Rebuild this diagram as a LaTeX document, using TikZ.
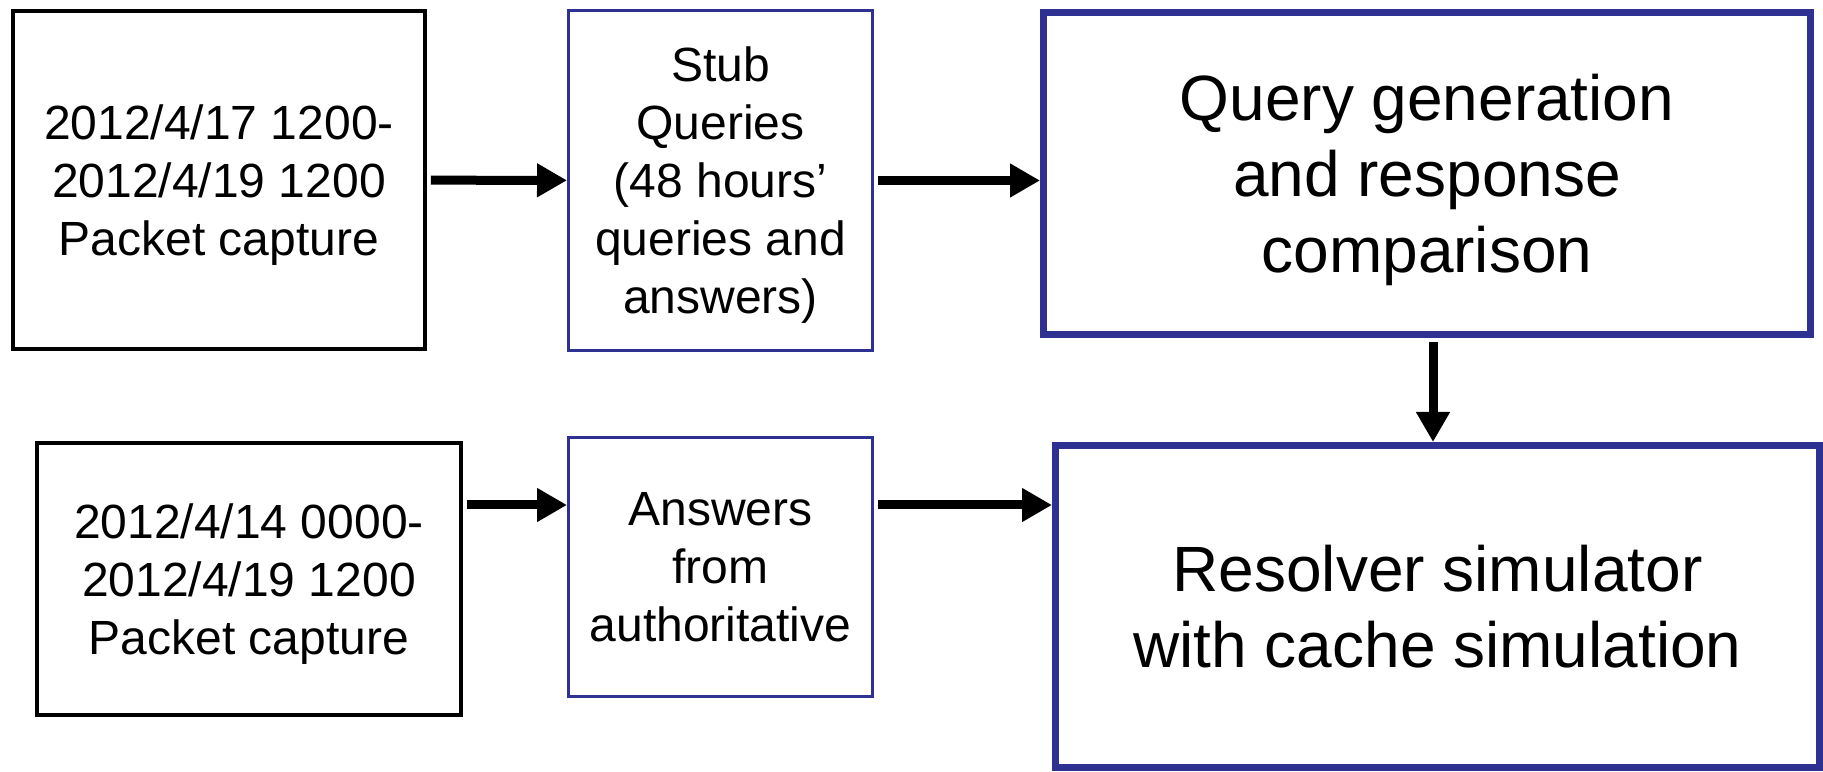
\documentclass[tikz,border=0pt]{standalone}
\usepackage{fontspec}
\setmainfont{Liberation Sans}
\usetikzlibrary{arrows.meta}
\definecolor{boxblue}{RGB}{46,49,146}

\begin{document}
\begin{tikzpicture}[x=5pt,y=5pt,
  capbox/.style={draw=black, line width=1.75pt, align=center, inner sep=0pt,
    text depth=0pt, font=\fontsize{24}{29}\selectfont},
  databox/.style={draw=boxblue, line width=1.5pt, align=center, inner sep=0pt,
    text depth=0pt, minimum width=152pt, font=\fontsize{24}{29}\selectfont},
  procbox/.style={draw=boxblue, line width=3.5pt, align=center, inner sep=0pt,
    text depth=0pt, font=\fontsize{32}{38}\selectfont},
  arr/.style={-{Triangle[length=15pt,width=16pt]}, line width=4.5pt, shorten <=2pt}]

\useasboundingbox (0,0) rectangle (182.3,77.1);

% top row
\node [capbox, minimum width=206pt, minimum height=169pt] (capA) at (21.9,59.1)
  {2012/4/17 1200-\\2012/4/19 1200\\Packet capture};
\node [databox, minimum height=170pt] (stub) at (72.05,59.05)
  {Stub\\Queries\\(48 hours’\\queries and\\answers)};
\node [procbox, minimum width=383.5pt, minimum height=161pt] (querygen) at (142.7,59.75)
  {Query generation\\and response\\comparison};

% bottom row
\node [capbox, minimum width=212pt, minimum height=136pt] (capB) at (24.9,19.2)
  {2012/4/14 0000-\\2012/4/19 1200\\Packet capture};
\node [databox, minimum height=129.5pt] (auth) at (72.05,20.4)
  {Answers\\from\\authoritative};
\node [procbox, minimum width=382pt, minimum height=161pt] (resolver) at (143.75,16.45)
  {Resolver simulator\\with cache simulation};

\draw [arr] (capA) -- (stub);
\draw [arr] (stub.east) -- (stub.east -| querygen.west);
\draw [arr] ([xshift=3pt]querygen.south) -- ([xshift=3pt]querygen.south |- resolver.north);
\draw [arr] ([yshift=37pt]capB.east) -- ([yshift=37pt]capB.east -| auth.west);
\draw [arr] ([yshift=31pt]auth.east) -- ([yshift=31pt]auth.east -| resolver.west);

\end{tikzpicture}
\end{document}
